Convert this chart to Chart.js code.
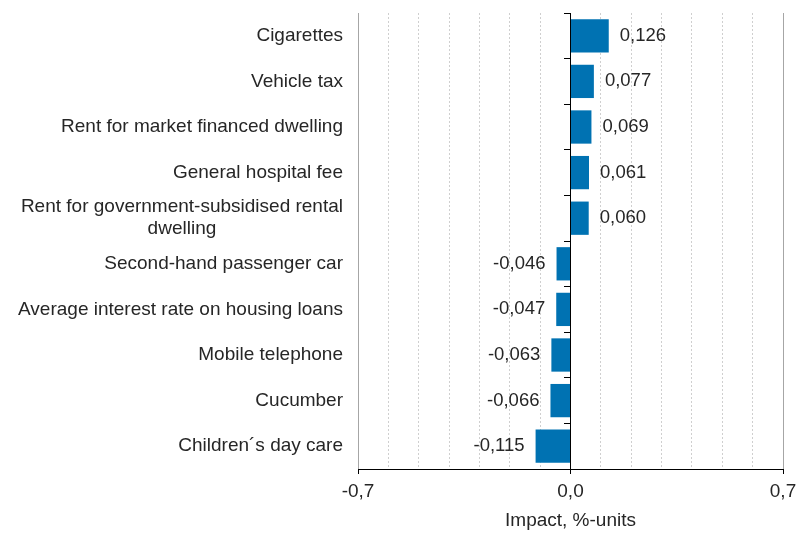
<!DOCTYPE html>
<html>
<head>
<meta charset="utf-8">
<script src="https://cdn.jsdelivr.net/npm/chart.js@4"></script>
<style>
  html, body { margin: 0; padding: 0; background: #fff; }
  #wrap { width: 796px; height: 536px; }
</style>
</head>
<body>
<div id="wrap"><canvas id="chart"></canvas></div>
<script>
const categories = [
  'Cigarettes',
  'Vehicle tax',
  'Rent for market financed dwelling',
  'General hospital fee',
  ['Rent for government-subsidised rental', 'dwelling'],
  'Second-hand passenger car',
  'Average interest rate on housing loans',
  'Mobile telephone',
  'Cucumber',
  'Children\u00b4s day care'
];
const impact = [0.126, 0.077, 0.069, 0.061, 0.060, -0.046, -0.047, -0.063, -0.066, -0.115];
const xLabelled = [-0.7, 0, 0.7];

const FONT = '"Liberation Sans", Arial, sans-serif';
const TEXT = '#262626';
const fmt = (v, d) => v.toFixed(d).replace('.', ',');
const isLabelled = v => xLabelled.some(t => Math.abs(t - v) < 1e-6);
const isEdge = v => Math.abs(Math.abs(v) - 0.7) < 1e-6;

// category names, right aligned as a block, lines centred inside it
const categoryLabels = {
  id: 'categoryLabels',
  afterDraw(chart) {
    const ctx = chart.ctx;
    const y = chart.scales.y;
    const right = chart.chartArea.left - 15;
    ctx.save();
    ctx.font = '19px ' + FONT;
    ctx.fillStyle = TEXT;
    ctx.textAlign = 'center';
    ctx.textBaseline = 'middle';
    categories.forEach((lab, i) => {
      const lines = Array.isArray(lab) ? lab : [lab];
      const w = Math.max(...lines.map(l => ctx.measureText(l).width));
      const cy = y.getPixelForValue(i);
      lines.forEach((l, j) => {
        ctx.fillText(l, right - w / 2, cy + (j - (lines.length - 1) / 2) * 22);
      });
    });
    ctx.restore();
  }
};

const valueLabels = {
  id: 'valueLabels',
  afterDatasetsDraw(chart) {
    const ctx = chart.ctx;
    ctx.save();
    ctx.font = '18.5px ' + FONT;
    ctx.fillStyle = TEXT;
    ctx.textBaseline = 'middle';
    chart.getDatasetMeta(0).data.forEach((bar, i) => {
      const v = impact[i];
      ctx.textAlign = v >= 0 ? 'left' : 'right';
      ctx.fillText(fmt(v, 3), bar.x + (v >= 0 ? 11 : -11), bar.y);
    });
    ctx.restore();
  }
};

new Chart(document.getElementById('chart'), {
  type: 'bar',
  data: {
    labels: categories,
    datasets: [{
      data: impact,
      backgroundColor: '#0072b2',
      barPercentage: 0.73,
      categoryPercentage: 1
    }]
  },
  options: {
    indexAxis: 'y',
    responsive: true,
    maintainAspectRatio: false,
    animation: false,
    layout: { padding: { top: 13, right: 13, bottom: 0, left: 0 } },
    plugins: {
      legend: { display: false },
      tooltip: { enabled: false }
    },
    scales: {
      x: {
        min: -0.7,
        max: 0.7,
        afterFit: s => { s.height = 67; s.paddingLeft = 0; s.paddingRight = 0; },
        ticks: {
          stepSize: 0.1,
          autoSkip: false,
          maxRotation: 0,
          padding: 6,
          color: TEXT,
          font: { family: FONT, size: 19 },
          callback: v => isLabelled(v) ? fmt(Math.abs(v) < 1e-6 ? 0 : v, 1) : ''
        },
        grid: {
          color: c => !c.tick ? '#000' : Math.abs(c.tick.value) < 1e-6 ? 'rgba(0,0,0,0)' : isEdge(c.tick.value) ? '#a6a6a6' : '#cfcfcf',
          tickColor: c => c.tick && isLabelled(c.tick.value) ? '#000' : 'rgba(0,0,0,0)',
          tickLength: 5
        },
        border: {
          color: '#000',
          dash: c => c.tick && !isEdge(c.tick.value) ? [2, 2] : []
        },
        title: {
          display: true,
          text: 'Impact, %-units',
          color: TEXT,
          font: { family: FONT, size: 19 },
          padding: { top: 0, bottom: 4 }
        }
      },
      y: {
        afterFit: s => { s.width = 358; },
        ticks: { display: false },
        grid: { display: false },
        border: { display: false }
      },
      y2: {
        type: 'category',
        axis: 'y',
        position: { x: 0 },
        offset: true,
        ticks: { display: false },
        grid: { offset: true, drawOnChartArea: false, tickLength: 6, color: '#000' },
        border: { display: true, color: '#000', width: 1 }
      }
    }
  },
  plugins: [categoryLabels, valueLabels]
});
</script>
</body>
</html>
